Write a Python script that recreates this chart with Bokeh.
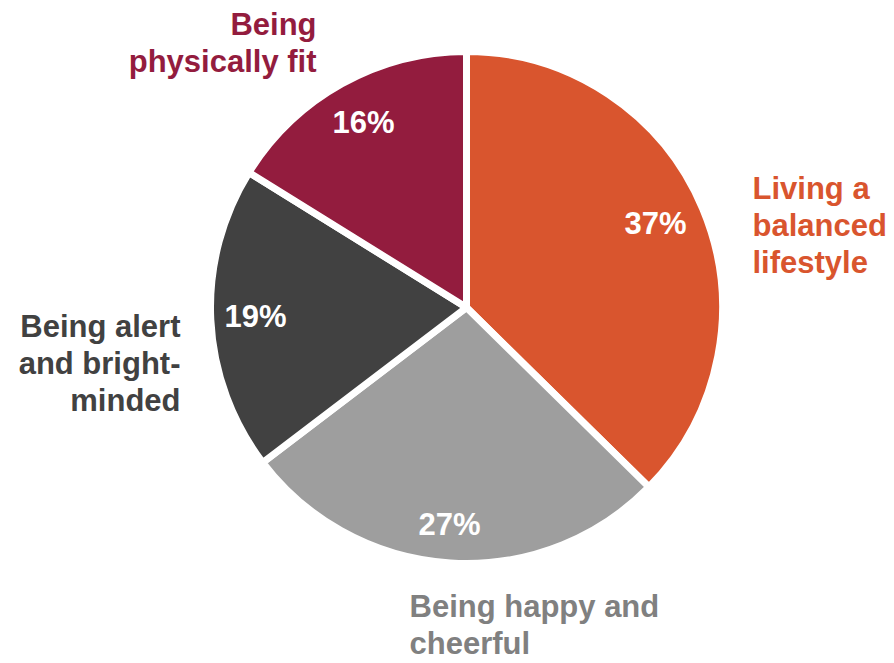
import math
from bokeh.plotting import figure
from bokeh.models import ColumnDataSource, Range1d
from bokeh.core.properties import value
from bokeh.embed import file_html
from bokeh.resources import INLINE

categories = ["Living a balanced lifestyle", "Being happy and cheerful",
              "Being alert and bright-minded", "Being physically fit"]
values = [37, 27, 19, 16]
pct_labels = ["37%", "27%", "19%", "16%"]
slice_colors = ["#D9552E", "#9E9E9E", "#414141", "#931C3E"]
label_colors = ["#D9552E", "#808080", "#414141", "#931C3E"]
label_lines = [["Living a", "balanced", "lifestyle"],
               ["Being happy and", "cheerful"],
               ["Being alert", "and bright-", "minded"],
               ["Being", "physically fit"]]

W, H = 894, 663
CX, CY, R = 466, H - 307, 256
SHIFT = 11  # compensation for SVG baseline placement

total = sum(values)
starts, ends = [], []
cum = 0.0
for v in values:
    starts.append(math.pi / 2 - cum / total * 2 * math.pi)
    cum += v
    ends.append(math.pi / 2 - cum / total * 2 * math.pi)

p = figure(width=W, height=H, output_backend="svg", toolbar_location=None,
           x_range=Range1d(0, W), y_range=Range1d(0, H), min_border=0)
p.axis.visible = False
p.grid.visible = False
p.outline_line_color = None
p.background_fill_color = "white"

src = ColumnDataSource(dict(start=starts, end=ends, color=slice_colors,
                            x=[CX] * 4, y=[CY] * 4))
p.wedge(x="x", y="y", radius=R, start_angle="start", end_angle="end",
        direction="clock", fill_color="color", line_color="white",
        line_width=7, source=src)

font = value("Liberation Sans")

# percentage labels (pixel positions of centre / baseline)
pct_pos = [(655, 234), (449, 535), (255, 327), (363, 133)]
p.text(x=[q[0] for q in pct_pos], y=[H - (q[1] - SHIFT) for q in pct_pos], text=pct_labels,
       text_color="white", text_font=font, text_font_style="bold",
       text_font_size="31px", text_align="center", text_baseline="alphabetic")

# category labels
label_anchor = [(752, 199, "left"), (409, 617, "left"),
                (180, 337, "right"), (316, 35, "right")]
LS = 37
for lines, col, (ax, ay, al) in zip(label_lines, label_colors, label_anchor):
    xs = [ax] * len(lines)
    ys = [H - (ay - SHIFT + i * LS) for i in range(len(lines))]
    p.text(x=xs, y=ys, text=lines, text_color=col, text_font=font,
           text_font_style="bold", text_font_size="31px", text_align=al,
           text_baseline="alphabetic")

open("out.html", "w").write(file_html(p, INLINE))
